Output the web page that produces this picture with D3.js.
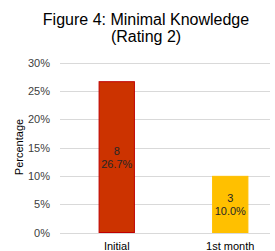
<!DOCTYPE html>
<html><head><meta charset="utf-8">
<script src="https://cdn.jsdelivr.net/npm/d3@7"></script>
<style>body{margin:0;background:#fff;}svg{display:block;font-family:"Liberation Sans",Arial,sans-serif;}</style>
</head><body>
<script>
const categories = ["Initial", "1st month"];
const counts = [8, 3];
const percents = [26.7, 10.0];
const colors = ["#CC3300", "#FFC000"];
const strokes = ["#C00000", "#FFC000"];
const yTicks = [0, 5, 10, 15, 20, 25, 30];
const titleLines = ["Figure 4: Minimal Knowledge", "(Rating 2)"];
const yTitle = "Percentage";

const W = 275, H = 251;
const svg = d3.select("body").append("svg").attr("width", W).attr("height", H);

const y = d3.scaleLinear().domain([0, 30]).range([232.5, 62.5]);
const x = d3.scaleBand().domain(categories).range([60, 287]).paddingInner(0.68).paddingOuter(0.34);

svg.append("g").selectAll("text").data(titleLines).join("text")
  .attr("x", 146).attr("y", (d, i) => 25 + i * 17)
  .attr("text-anchor", "middle").attr("font-size", 16).attr("fill", "#000").text(d => d);

svg.append("g").selectAll("line").data(yTicks).join("line")
  .attr("x1", 60).attr("x2", 270)
  .attr("y1", d => Math.round(y(d)) + 0.5).attr("y2", d => Math.round(y(d)) + 0.5)
  .attr("stroke", "#d9d9d9").attr("stroke-width", 1);

svg.append("g").selectAll("text").data(yTicks).join("text")
  .attr("x", 50).attr("y", d => y(d) + 4)
  .attr("text-anchor", "end").attr("font-size", 11).attr("fill", "#404040")
  .text(d => d + "%");

svg.append("text").attr("transform", "translate(23,147) rotate(-90)")
  .attr("text-anchor", "middle").attr("font-size", 11).attr("fill", "#000").text(yTitle);

svg.append("g").selectAll("rect").data(categories).join("rect")
  .attr("x", d => x(d) + 0.5).attr("width", x.bandwidth() - 1)
  .attr("y", (d, i) => y(percents[i]) + 0.5)
  .attr("height", (d, i) => y(0) - y(percents[i]) - 0.5)
  .attr("fill", (d, i) => colors[i]).attr("stroke", (d, i) => strokes[i]).attr("stroke-width", 1);

const lab = svg.append("g").selectAll("g").data(categories).join("g");
lab.append("text")
  .attr("x", d => x(d) + x.bandwidth() / 2)
  .attr("y", (d, i) => (y(percents[i]) + y(0)) / 2 - 2)
  .attr("text-anchor", "middle").attr("font-size", 11).attr("fill", "#262626")
  .text((d, i) => counts[i]);
lab.append("text")
  .attr("x", d => x(d) + x.bandwidth() / 2)
  .attr("y", (d, i) => (y(percents[i]) + y(0)) / 2 + 11)
  .attr("text-anchor", "middle").attr("font-size", 11).attr("fill", "#262626")
  .text((d, i) => percents[i].toFixed(1) + "%");

svg.append("g").selectAll("text").data(categories).join("text")
  .attr("x", d => x(d) + x.bandwidth() / 2).attr("y", 250)
  .attr("text-anchor", "middle").attr("font-size", 11).attr("fill", "#000")
  .text(d => d);
</script>
</body></html>
